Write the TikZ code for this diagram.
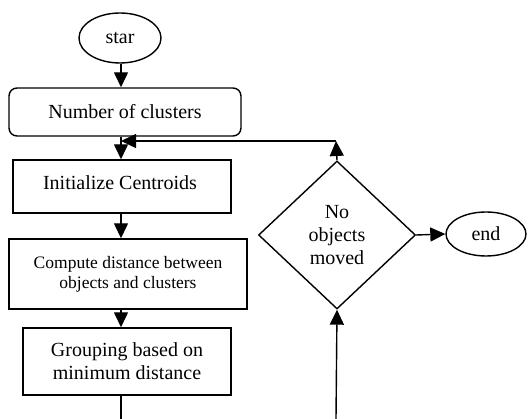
\documentclass[tikz,border=0pt]{standalone}
\usepackage{fontspec}
\setmainfont{Liberation Serif}
\usetikzlibrary{arrows.meta,shapes.geometric}
\begin{document}
\begin{tikzpicture}[x=1pt,y=-1pt,
  every node/.style={font=\fontsize{20}{23}\selectfont, inner sep=0pt},
  box/.style={draw, line width=1.4pt, rectangle, align=center},
  oval/.style={draw, line width=1.4pt, ellipse},
  dec/.style={draw, line width=1.4pt, diamond, align=center},
  ln/.style={line width=1.4pt},
  arr/.style={line width=1.4pt, -{Triangle[length=15pt,width=14pt]}}]
\useasboundingbox (0,0) rectangle (528,419);
\node[oval, minimum width=82pt, minimum height=50pt] (star) at (120,38) {star};
\node[box, rounded corners=8pt, minimum width=232pt, minimum height=48pt] (num) at (125,112) {Number of clusters};
\node[box, minimum width=218pt, minimum height=53pt] (init) at (122,186.5) {};
\node at (120,183) (initt) {Initialize Centroids};
\node[box, minimum width=238pt, minimum height=70pt, font=\fontsize{17.5}{20}\selectfont] (comp) at (128,274) {Compute distance between\\objects and clusters};
\node[box, minimum width=208pt, minimum height=67pt] (grp) at (127,361.5) {Grouping based on\\minimum distance};
\node[dec, minimum width=157pt, minimum height=148pt] (dia) at (337,235) {No\\objects\\moved};
\node[oval, minimum width=80pt, minimum height=44pt] (end) at (486,234) {end};
\coordinate (fbR) at (336,141);
\coordinate (fbL) at (121,141);
\coordinate (botL) at (121,419);
\coordinate (botR) at (336,419);
\draw[arr] (star.south -| fbL) -- (num.north -| fbL);
\draw[arr] (num.south -| fbL) -- (init.north -| fbL);
\draw[arr] (init.south -| fbL) -- (comp.north -| fbL);
\draw[arr] (comp.south -| fbL) -- (grp.north -| fbL);
\draw[ln] (grp.south -| botL) -- (botL);
\draw[arr] (botR) -- (dia.south);
\draw[arr] (dia.north) -- (fbR);
\draw[arr] (fbR) -- (fbL);
\draw[arr] (dia.east) -- (end.west);
\end{tikzpicture}
\end{document}
